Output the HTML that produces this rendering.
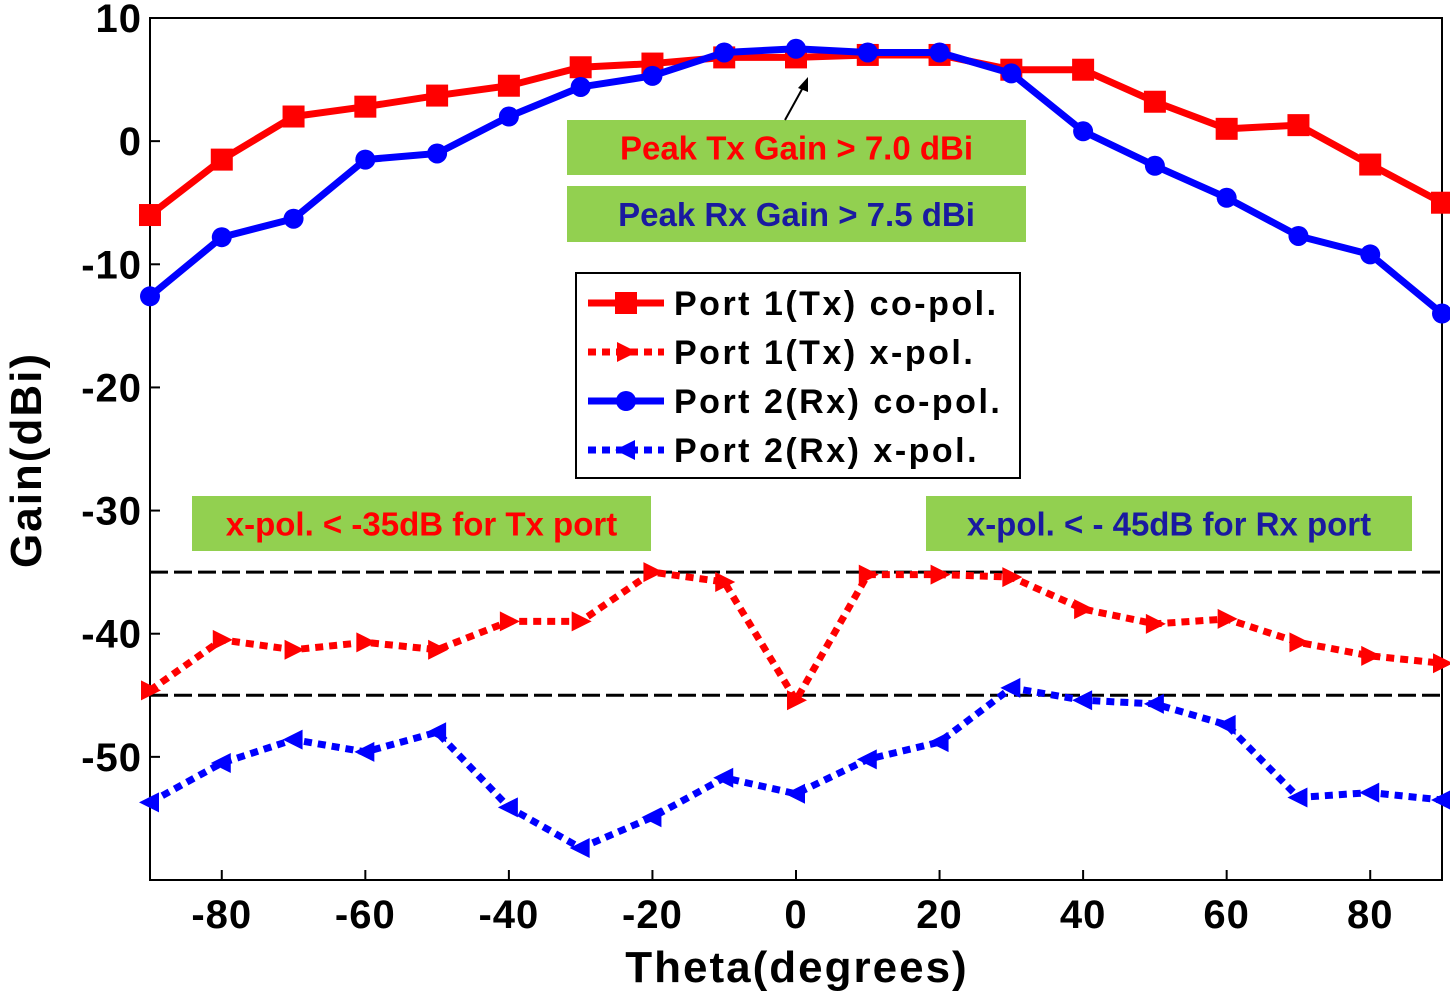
<!DOCTYPE html>
<html><head><meta charset="utf-8"><style>
html,body{margin:0;padding:0;background:#fff;}
svg text{font-family:"Liberation Sans",Arial,sans-serif;font-weight:bold;}
</style></head><body>
<svg id="chart" width="1450" height="994" viewBox="0 0 1450 994" xmlns="http://www.w3.org/2000/svg"></svg>
<script>
const theta=[-90,-80,-70,-60,-50,-40,-30,-20,-10,0,10,20,30,40,50,60,70,80,90];
const txCo=[-6,-1.5,2,2.8,3.7,4.5,6,6.3,6.8,6.8,7,7,5.8,5.8,3.2,1,1.3,-1.9,-5];
const rxCo=[-12.6,-7.8,-6.3,-1.5,-1,2,4.4,5.3,7.2,7.5,7.2,7.2,5.5,0.8,-2,-4.6,-7.7,-9.2,-14];
const txX=[-44.6,-40.5,-41.3,-40.7,-41.3,-39,-39,-35,-35.8,-45.4,-35.2,-35.2,-35.4,-38,-39.2,-38.8,-40.7,-41.8,-42.4];
const rxX=[-53.7,-50.5,-48.6,-49.6,-48,-54.1,-57.4,-54.9,-51.7,-53,-50.2,-48.8,-44.4,-45.4,-45.7,-47.4,-53.3,-52.9,-53.5];
const xTicks=[-80,-60,-40,-20,0,20,40,60,80];
const yTicks=[10,0,-10,-20,-30,-40,-50];
const refLines=[-35,-45];

const L=150,R=1442,T=18,B=880;
const xMin=-90,xMax=90,yMin=-60,yMax=10;
const X=v=>L+(v-xMin)/(xMax-xMin)*(R-L);
const Y=v=>B-(v-yMin)/(yMax-yMin)*(B-T);
const svg=document.getElementById('chart');
const NS='http://www.w3.org/2000/svg';
function mk(tag,attrs,parent){const e=document.createElementNS(NS,tag);for(const k in attrs)e.setAttribute(k,attrs[k]);(parent||svg).appendChild(e);return e;}

let ax=mk('rect',{x:L,y:T,width:R-L,height:B-T,fill:'none',stroke:'#000','stroke-width':2});



xTicks.forEach(t=>{
  let tl=mk('line',{x1:X(t),x2:X(t),y1:B,y2:B-10,stroke:'#000','stroke-width':2});
  
  
  let tx=mk('text',{x:X(t),y:928,'font-size':40,'letter-spacing':1,'text-anchor':'middle'});tx.textContent=t;
  
  
});
yTicks.forEach(t=>{
  let tl=mk('line',{x1:L,x2:L+10,y1:Y(t),y2:Y(t),stroke:'#000','stroke-width':2});
  
  
  let tx=mk('text',{x:142,y:Y(t)+14,'font-size':40,'letter-spacing':1,'text-anchor':'end'});tx.textContent=t;
  
  
});
let xl=mk('text',{x:797,y:982,'font-size':44,'letter-spacing':2,'text-anchor':'middle'});xl.textContent='Theta(degrees)';


let yl=mk('text',{x:0,y:0,'font-size':44,'letter-spacing':2,'text-anchor':'middle',transform:'translate(41,460) rotate(-90)'});yl.textContent='Gain(dBi)';



refLines.forEach(v=>{
  let l=mk('line',{x1:L,x2:R,y1:Y(v),y2:Y(v),stroke:'#000','stroke-width':3,'stroke-dasharray':'18,6'});
  
  
});

function marker(type,cx,cy,color,g){
  let m;
  if(type==='sq')m=mk('rect',{x:cx-11,y:cy-11,width:22,height:22,fill:color},g);
  else if(type==='ci')m=mk('circle',{cx:cx,cy:cy,r:10,fill:color},g);
  else if(type==='tr')m=mk('polygon',{points:`${cx+11},${cy} ${cx-9},${cy-10} ${cx-9},${cy+10}`,fill:color},g);
  else m=mk('polygon',{points:`${cx-11},${cy} ${cx+9},${cy-10} ${cx+9},${cy+10}`,fill:color},g);
  
  
}
function series(vals,color,dash,type,name){
  const g=mk('g',{});
  
  
  const pts=vals.map((v,i)=>X(theta[i])+','+Y(v)).join(' ');
  let p=mk('polyline',{points:pts,fill:'none',stroke:color,'stroke-width':7,'stroke-dasharray':dash||'none'},g);
  
  
  vals.forEach((v,i)=>marker(type,X(theta[i]),Y(v),color,g));
}
series(txCo,'#f00',null,'sq','tx-co-pol');
series(rxCo,'#00f',null,'ci','rx-co-pol');
series(txX,'#f00','8,6','tr','tx-x-pol');
series(rxX,'#00f','8,6','tl','rx-x-pol');

function box(x,y,w,h,text,color,name){
  let r=mk('rect',{x:x,y:y,width:w,height:h,fill:'#92d050'});
  
  
  let t=mk('text',{x:x+w/2,y:y+h/2+12,'font-size':33,'text-anchor':'middle',fill:color});
  t.textContent=text;
  
  
}
box(567,120,459,55,'Peak Tx Gain > 7.0 dBi','#f00','peak-tx-annotation');
box(567,186,459,56,'Peak Rx Gain > 7.5 dBi','#1a1aa0','peak-rx-annotation');
box(192,496,459,55,'x-pol. < -35dB for Tx port','#f00','tx-xpol-annotation');
box(926,496,486,55,'x-pol. < - 45dB for Rx port','#1a1aa0','rx-xpol-annotation');

let ar=mk('line',{x1:785,y1:120,x2:806,y2:82,stroke:'#000','stroke-width':2});


let ah=mk('polygon',{points:'808,77 798,88 808,92',fill:'#000'});



const lg=mk('g',{});


mk('rect',{x:576,y:273,width:444,height:205,fill:'#fff',stroke:'#000','stroke-width':2},lg);
const entries=[['Port 1(Tx) co-pol.','#f00',null,'sq'],['Port 1(Tx) x-pol.','#f00','8,6','tr'],['Port 2(Rx) co-pol.','#00f',null,'ci'],['Port 2(Rx) x-pol.','#00f','8,6','tl']];
entries.forEach((e,i)=>{
  const y=303+i*49;
  const g=mk('g',{},lg);
  
  
  mk('line',{x1:588,x2:664,y1:y,y2:y,stroke:e[1],'stroke-width':7,'stroke-dasharray':e[2]||'none'},g);
  marker(e[3],626,y,e[1],g);
  const t=mk('text',{x:674,y:y+12,'font-size':34,'letter-spacing':2.5},g);t.textContent=e[0];
});
</script>
</body></html>
